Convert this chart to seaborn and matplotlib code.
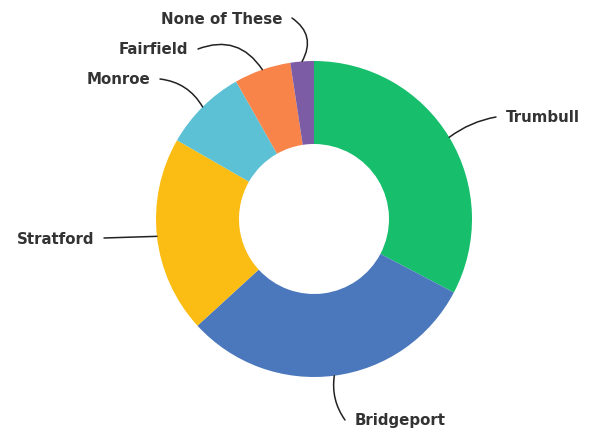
import numpy as np
import matplotlib
matplotlib.use("Agg")
import matplotlib.pyplot as plt
import seaborn as sns

categories = ["Trumbull", "Bridgeport", "Stratford", "Monroe", "Fairfield", "None of These"]
values = [32.7, 30.5, 20.1, 8.5, 5.8, 2.4]
colors = ["#17BE6C", "#4B78BC", "#FBBD13", "#5CC1D5", "#F9844A", "#7B5CA5"]

sns.set_theme(style="white")
plt.rcParams['font.family'] = ['DejaVu Sans']

W, H = 613, 431
fig = plt.figure(figsize=(W / 100, H / 100), dpi=100)
ax = fig.add_axes([0, 0, 1, 1])

cx, cy, R = 314, H - 220, 158
wedges, _ = ax.pie(values, colors=colors, startangle=90, counterclock=False,
                   center=(cx, cy), radius=R, frame=True,
                   wedgeprops=dict(width=83, linewidth=0))
ax.set_xlim(0, W)
ax.set_ylim(0, H)
ax.set_aspect("equal")
ax.axis("off")

# label layout: (text x, text y in image px, ha, connection rad)
layout = {
    "Trumbull": (506, 118, "left", -0.12),
    "Bridgeport": (355, 421, "left", 0.2),
    "Stratford": (94, 239, "right", 0.0),
    "Monroe": (150, 80, "right", 0.25),
    "Fairfield": (188, 50, "right", 0.4),
    "None of These": (282, 19, "right", 0.45),
}
for w, name in zip(wedges, categories):
    ang = np.deg2rad((w.theta1 + w.theta2) / 2)
    ax_pt = (cx + R * np.cos(ang), cy + R * np.sin(ang))
    tx, ty, ha, rad = layout[name]
    ty = H - ty
    end_x = tx - 10 if ha == "left" else tx + 10
    ax.annotate("", xy=(end_x, ty), xytext=ax_pt,
                arrowprops=dict(arrowstyle="-", color="#222222", lw=1.1,
                                shrinkA=0, shrinkB=0,
                                connectionstyle=f"arc3,rad={rad}"))
    ax.text(tx, ty, name, ha=ha, va="center", fontsize=10.8,
            color="#333333", fontweight="bold")

fig.savefig("out.png", dpi=100, facecolor="white")
